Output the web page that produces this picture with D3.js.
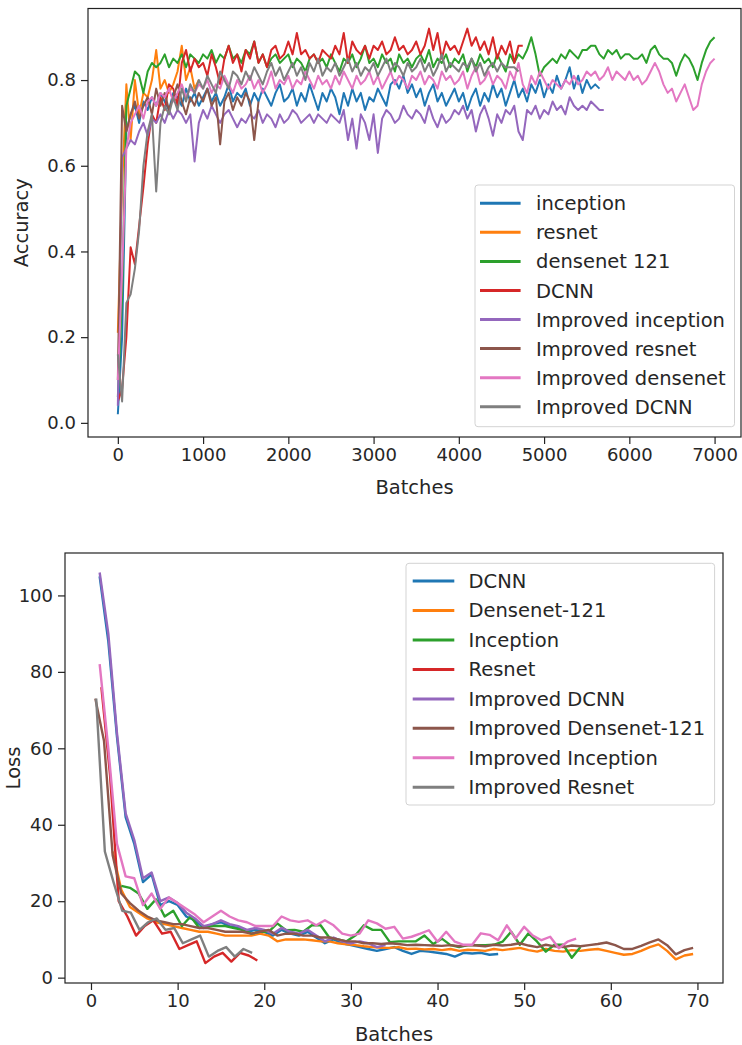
<!DOCTYPE html>
<html><head><meta charset="utf-8">
<script src="https://cdn.jsdelivr.net/npm/d3@7"></script>
<style>
body{margin:0;background:#fff}
svg text{font-family:"DejaVu Sans",sans-serif;fill:#262626}
</style>
</head><body><svg id="c" width="742" height="1045"></svg>
<script>
// ---------- Accuracy chart data (one value every accBatchStep batches, starting at batch 0) ----------
const accBatchStep = 50;
const accLabels = ["inception","resnet","densenet 121","DCNN","Improved inception","Improved resnet","Improved densenet","Improved DCNN"];
const accXTicks = [0,1000,2000,3000,4000,5000,6000,7000];
const accYTicks = [0.0,0.2,0.4,0.6,0.8];

const accInception = [
.02,.20,.68,.72,.74,.70,.75,.73,.76,.74,
.77,.75,.73,.77,.76,.74,.78,.75,.77,.74,
.76,.78,.75,.77,.74,.76,.79,.75,.77,.76,
.78,.74,.77,.75,.78,.76,.74,.77,.79,.75,
.76,.78,.74,.77,.75,.79,.76,.73,.77,.75,
.78,.76,.72,.77,.74,.78,.75,.77,.73,.76,
.75,.78,.76,.74,.79,.80,.78,.81,.77,.79,
.76,.78,.74,.77,.79,.75,.77,.74,.76,.78,
.75,.77,.73,.76,.78,.74,.77,.75,.79,.76,
.78,.74,.77,.80,.76,.78,.75,.79,.77,.80,
.76,.79,.77,.81,.78,.80,.83,.78,.81,.77,
.80,.78,.79,.78];
const accResnet = [.21,.55,.79,.66,.80,.72,.77,.76,.80,.87,.78,.80,.77,.79,.82,.88,.80,.83,.78,.80];
const accDensenet = [
.06,.30,.74,.78,.82,.81,.77,.82,.84,.83,
.84,.86,.83,.85,.84,.86,.83,.86,.85,.84,
.86,.85,.87,.84,.86,.85,.88,.85,.86,.84,
.87,.86,.89,.84,.86,.83,.85,.86,.84,.85,
.86,.83,.85,.84,.82,.85,.86,.84,.85,.83,
.86,.84,.82,.85,.84,.86,.83,.85,.88,.84,
.85,.83,.86,.84,.85,.82,.86,.84,.85,.83,
.85,.86,.84,.87,.83,.85,.84,.86,.83,.85,
.84,.86,.82,.85,.83,.86,.84,.85,.83,.86,
.84,.82,.86,.84,.86,.85,.87,.90,.86,.81,
.83,.84,.85,.84,.86,.85,.87,.86,.85,.87,
.87,.88,.88,.86,.85,.87,.86,.87,.85,.86,
.86,.85,.85,.86,.84,.87,.88,.86,.85,.85,
.84,.81,.84,.86,.85,.83,.80,.84,.87,.89,
.90];
const accDCNN = [
.05,.08,.20,.41,.37,.46,.55,.65,.72,.70,
.76,.73,.79,.78,.74,.84,.87,.82,.85,.83,
.84,.81,.86,.83,.79,.85,.88,.84,.86,.82,
.87,.85,.89,.84,.86,.83,.87,.88,.85,.86,
.89,.86,.91,.86,.87,.85,.86,.84,.87,.86,
.85,.88,.86,.91,.84,.89,.87,.86,.88,.85,
.88,.87,.89,.86,.87,.90,.87,.88,.86,.87,
.89,.86,.88,.92,.87,.91,.85,.89,.87,.88,
.86,.89,.92,.88,.90,.87,.89,.86,.90,.85,
.88,.86,.89,.84,.88,.88];
const accImpInception = [
.04,.62,.64,.66,.65,.68,.70,.67,.71,.70,
.72,.70,.73,.71,.73,.72,.70,.72,.61,.70,
.73,.71,.74,.72,.70,.72,.73,.71,.69,.71,
.70,.72,.71,.73,.70,.72,.71,.69,.72,.70,
.71,.73,.72,.70,.71,.72,.70,.72,.71,.70,
.72,.71,.70,.73,.66,.71,.64,.72,.70,.66,
.72,.63,.71,.73,.72,.70,.71,.74,.72,.71,
.73,.72,.70,.74,.71,.69,.72,.70,.71,.73,
.72,.74,.71,.73,.68,.72,.74,.71,.67,.72,
.70,.73,.72,.74,.68,.66,.73,.72,.74,.71,
.73,.72,.75,.73,.74,.72,.76,.74,.73,.74,
.73,.75,.74,.73,.73];
const accImpResnet = [
.10,.74,.68,.72,.75,.71,.74,.76,.72,.78,
.74,.77,.73,.76,.79,.75,.72,.76,.74,.77,
.75,.78,.74,.76,.65,.75,.77,.73,.76,.74,
.77,.75,.66,.75];
const accImpDensenet = [
.10,.35,.64,.70,.72,.74,.71,.75,.76,.74,
.77,.76,.78,.75,.77,.79,.76,.78,.77,.79,
.78,.80,.77,.79,.78,.81,.79,.77,.80,.78,
.79,.81,.78,.80,.77,.79,.82,.78,.80,.79,
.81,.78,.80,.79,.82,.80,.78,.81,.79,.80,
.78,.81,.79,.82,.80,.78,.81,.79,.80,.82,
.79,.81,.78,.80,.82,.79,.81,.80,.78,.81,
.80,.82,.79,.81,.80,.78,.82,.80,.81,.79,
.80,.82,.78,.81,.83,.79,.80,.82,.79,.81,
.80,.78,.82,.80,.84,.79,.77,.81,.79,.82,
.80,.78,.80,.79,.78,.80,.79,.81,.79,.80,
.82,.81,.82,.80,.81,.83,.80,.82,.81,.80,
.82,.80,.81,.79,.80,.82,.84,.82,.79,.77,
.78,.75,.77,.79,.76,.73,.74,.79,.82,.84,
.85];
const accImpDCNN = [
.16,.05,.28,.30,.36,.45,.60,.68,.72,.54,
.70,.74,.72,.76,.73,.78,.75,.79,.77,.80,
.78,.81,.79,.77,.82,.80,.78,.82,.81,.79,
.82,.80,.83,.81,.79,.82,.84,.81,.83,.80,
.82,.84,.81,.83,.80,.84,.82,.85,.81,.83,
.82,.84,.81,.83,.85,.82,.84,.81,.83,.82,
.84,.81,.83,.85,.82,.84,.83,.81,.84,.82,
.83,.85,.82,.84,.81,.83,.86,.82,.84,.83,
.82,.84,.83,.85,.82,.84,.81,.83,.84,.82,
.84,.83,.83,.83,.82];

// ---------- Loss chart data (one value per batch, each series starting at lossStart) ----------
const lossLabels = ["DCNN","Densenet-121","Inception","Resnet","Improved DCNN","Improved Densenet-121","Improved Inception","Improved Resnet"];
const lossStart = [1, 2.5, 3.5, 1.2, 1, 0.5, 1, 0.6];
const lossXTicks = [0,10,20,30,40,50,60,70];
const lossYTicks = [0,20,40,60,80,100];

const lossDCNN = [
105,88,63,42,35,25,27,19,20,19,
16,15,13,14,14.5,13.5,13,12,12.5,12,
11,12.5,11.5,11,12,10.5,9,10,9,8.5,
8,7.5,7,7.5,8,7,6.2,7,6.8,6.5,
6.2,5.5,6.5,6.3,6.5,6,6.2];
const lossDensenet = [
33,23,18.5,17,15.5,14.5,14,13.5,13,12.5,
12,12,11.5,11,11,11,11,11.5,11,9.5,
10,10,10,9.8,9.5,9.5,9,8.7,8.5,8.2,
8,7.8,7.8,8,7.5,7.6,7.4,7.5,7.2,7.5,
7,7.3,7.2,7,7.5,7.2,7.5,7.8,7.2,6.8,
7.5,7,6.8,7.2,7,7.3,7.5,7,6.5,6,
6.2,7,8,8.7,7,4.8,5.8,6.2];
const lossInception = [
24,23.5,22,18,20.5,16,17.5,13.5,16,13,
13.5,13.5,13.5,13,12.5,11.5,12,12,14.2,12.4,
12.5,12,13.7,13.7,10.5,10,9.5,11,13.7,12.5,
12.5,9.3,9.5,9.5,9.5,11,8.8,10.2,8.5,8,
8.5,8.5,8.5,8.6,9.4,12,8.6,11.6,9.4,6.8,
8.6,8.6,5.2,8];
const lossResnet = [76,53,20,16,11,13.5,15,11.5,12,7.5,8.5,9.5,3.8,5.5,6.5,4.2,6.5,5.8,4.5];
const lossImpDCNN = [
106,90,64,43,36,26,27.5,20,21,19.5,
17,15.5,13.5,14,15,14,13.5,12.5,13,12.5,
11.5,13,12,11.5,12.5,11,9.5,10.5,9.5,9,
9.5,9,8,8.5];
const lossImpDensenet = [
73,62,32,22,19.5,17.5,16,15,14.5,14,
14,13.5,13,13,12.5,12,12,12,11.5,12,
12.5,11,11.5,11.5,11,11,10.5,10.5,10,9.5,
9.5,9,9,8.8,9,8.8,8.5,8.6,8.5,8.4,
8.3,8.5,8.2,8.5,8.4,8.2,8.6,8.4,8.6,9,
8.4,8,8.6,8.2,8,8.4,8.2,8.5,8.8,9.2,
8.5,7.5,7.5,8.3,9.2,10,8.5,6.1,7.2,7.8];
const lossImpInception = [
82,60,35,26.5,26,19,22,18,21,19.5,
18,16.5,14.5,16,17.5,16,15,14.5,13.5,13.5,
13.5,16,15,14.6,15,13.7,15,13.7,11.5,11,
11.5,15,14.2,12.8,13.3,10.2,10.7,11.5,12.4,9.4,
12,9.4,8.6,8.6,11.6,11.2,9.8,13.7,10.2,13.3,
11,9.8,10.7,7.7,9.4,10.2];
const lossImpResnet = [73,33,25,17.5,17,12.5,14.5,15.5,12.5,13,9,10,11,5.5,7,8,5.5,7.5,6.5];

const palette = ["#1f77b4","#ff7f0e","#2ca02c","#d62728","#9467bd","#8c564b","#e377c2","#7f7f7f"];

const svg = d3.select("#c");
const FS = 18;      // tick labels
const FL = 19.5;    // axis labels and legend

function panel(o){
  const g = svg.append("g");
  const x = d3.scaleLinear().domain(o.xDomain).range([o.left, o.right]);
  const y = d3.scaleLinear().domain(o.yDomain).range([o.bottom, o.top]);
  const line = d3.line().x(d => x(d[0])).y(d => y(d[1]));
  o.series.forEach((s, i) => {
    g.append("path").datum(s).attr("fill","none").attr("stroke",palette[i])
      .attr("stroke-width",o.lw).attr("stroke-linejoin","round").attr("d",line);
  });
  // frame
  g.append("rect").attr("x",o.left).attr("y",o.top).attr("width",o.right-o.left).attr("height",o.bottom-o.top)
    .attr("fill","none").attr("stroke","#222").attr("stroke-width",1.2);
  const xa = g.append("g").attr("transform",`translate(0,${o.bottom})`)
    .call(d3.axisBottom(x).tickValues(o.xTicks).tickFormat(d3.format("d")).tickSize(7).tickPadding(4).tickSizeOuter(0));
  const ya = g.append("g").attr("transform",`translate(${o.left},0)`)
    .call(d3.axisLeft(y).tickValues(o.yTicks).tickFormat(o.yFmt).tickSize(7).tickPadding(5).tickSizeOuter(0));
  [xa, ya].forEach(a => {
    a.select(".domain").remove();
    a.selectAll("line").attr("stroke","#222").attr("stroke-width",1.2);
    a.selectAll("text").attr("font-size",FS).attr("fill","#262626").attr("font-family","DejaVu Sans");
  });
  g.append("text").attr("x",(o.left+o.right)/2).attr("y",o.xLabelY).attr("text-anchor","middle")
    .attr("font-size",FL).text("Batches");
  g.append("text").attr("transform",`translate(${o.yLabelX},${(o.top+o.bottom)/2}) rotate(-90)`)
    .attr("text-anchor","middle").attr("font-size",FL).text(o.yLabel);
  // legend
  const L = o.legend;
  g.append("rect").attr("x",L.x).attr("y",L.y).attr("width",L.w).attr("height",L.h).attr("rx",3)
    .attr("fill","rgba(255,255,255,0.85)").attr("stroke","#d3d3d3").attr("stroke-width",1);
  o.labels.forEach((lab, i) => {
    const ry = L.row0 + i*L.rowH;
    g.append("line").attr("x1",L.h1).attr("x2",L.h2).attr("y1",ry).attr("y2",ry)
      .attr("stroke",palette[i]).attr("stroke-width",3);
    g.append("text").attr("x",L.tx).attr("y",ry).attr("dy","0.36em").attr("font-size",FL).text(lab);
  });
}

const accSeries = [accInception,accResnet,accDensenet,accDCNN,accImpInception,accImpResnet,accImpDensenet,accImpDCNN]
  .map(arr => arr.map((v,i) => [i*accBatchStep, v]));
const lossSeries = [lossDCNN,lossDensenet,lossInception,lossResnet,lossImpDCNN,lossImpDensenet,lossImpInception,lossImpResnet]
  .map((arr,k) => arr.map((v,i) => [lossStart[k]+i, v]));

panel({
  left:88, right:741, top:8.5, bottom:437,
  xDomain:[-350,7310], yDomain:[-0.033,0.967],
  xTicks:accXTicks, yTicks:accYTicks, yFmt:d3.format(".1f"),
  series:accSeries, lw:2, labels:accLabels,
  xLabelY:494, yLabelX:28, yLabel:"Accuracy",
  legend:{x:475,y:185,w:259.5,h:241.7,row0:203.3,rowH:29.06,h1:480,h2:520.6,tx:536}
});
panel({
  left:65, right:723, top:553, bottom:983,
  xDomain:[-3,72.95], yDomain:[-1.4,111.1],
  xTicks:lossXTicks, yTicks:lossYTicks, yFmt:d3.format("d"),
  series:lossSeries, lw:2.4, labels:lossLabels,
  xLabelY:1041, yLabelX:20, yLabel:"Loss",
  legend:{x:406,y:563.3,w:308.6,h:241.7,row0:581,rowH:29.47,h1:412.7,h2:454.3,tx:468.5}
});
</script>
</body></html>
